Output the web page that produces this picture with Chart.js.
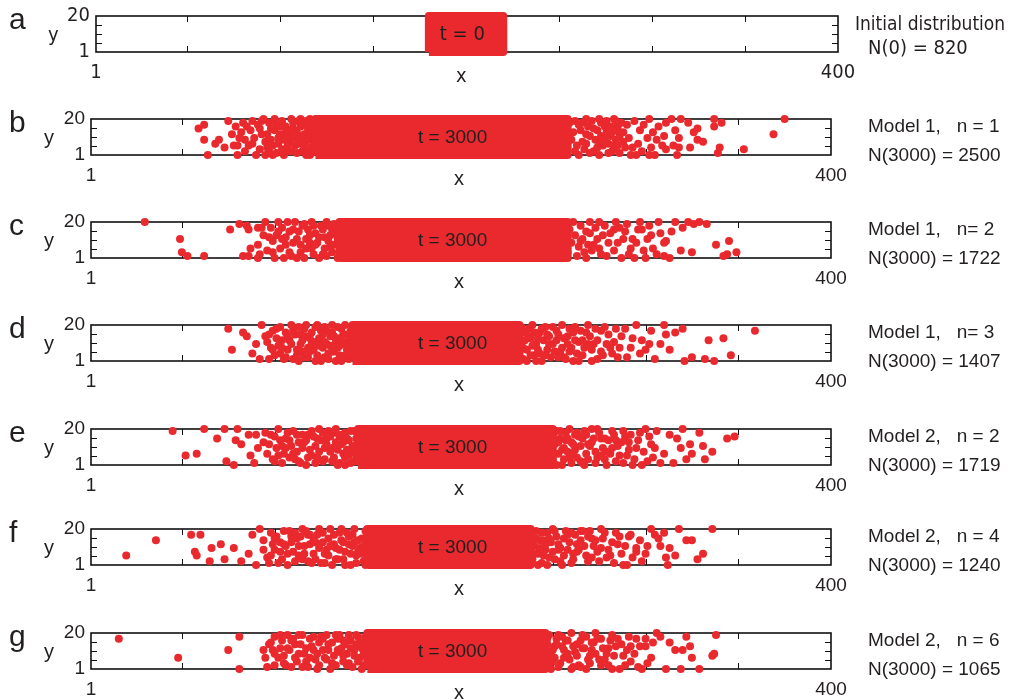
<!DOCTYPE html>
<html>
<head>
<meta charset="utf-8">
<script src="https://cdn.jsdelivr.net/npm/chart.js@4.4.1/dist/chart.umd.min.js"></script>
<style>
  body { margin: 0; background: #fff; width: 1011px; height: 700px; position: relative; overflow: hidden;
         font-family: "Liberation Sans", Arial, sans-serif; color: #231f20; }
  canvas { position: absolute; left: 0; }
  .lbl { position: absolute; white-space: pre; line-height: 1; }
  .narrow { font-family: "Liberation Sans Narrow", "DejaVu Sans Condensed", "Liberation Sans", sans-serif; }
</style>
</head>
<body>
<script>
// axis ticks
const xTickLabels = [1, 400];
const yTickLabels = [1, 20];
const xMinorTicks = [50, 100, 150, 200, 250, 300, 350];
const yMinorTicks = [5.75, 10.5, 15.25];

// panel texts
const letters = ['a', 'b', 'c', 'd', 'e', 'f', 'g'];
const timeLabels = ['t = 0', 't = 3000', 't = 3000', 't = 3000', 't = 3000', 't = 3000', 't = 3000'];
const modelLabels = ['Initial distribution', 'Model 1,   n = 1', 'Model 1,   n= 2', 'Model 1,   n= 3',
                     'Model 2,   n = 2', 'Model 2,   n = 4', 'Model 2,   n = 6'];
const countLabels = ['N(0) = 820', 'N(3000) = 2500', 'N(3000) = 1722', 'N(3000) = 1407',
                     'N(3000) = 1719', 'N(3000) = 1240', 'N(3000) = 1065'];

// fully occupied x range (every y = 1..20 taken)
const coreA = [180, 220];
const coreB = [122, 258];
const coreC = [135, 258];
const coreD = [142, 232];
const coreE = [145, 250];
const coreF = [150, 238];
const coreG = [150, 246];

// individuals [x, y] outside the full block
const pointsA = [];
const pointsB = [
  [59,15],[62,17],[62,9],[64,1],[68,7],[70,9],[73,5],[75,19],[77,12],[79,16],[78,6],[80,6],[80,1],[82,13],
  [83,18],[84,9],[85,16],[86,6],[88,19],[88,7],[90,1],[91,17],[92,15],[93,19],[95,8],[96,5],[95,1],[98,15],
  [99,1],[100,20],[102,10],[103,16],[104,4],[106,13],[107,3],[109,20],[108,8],[110,15],[111,6],[113,19],
  [114,11],[115,3],[116,17],[117,8],[118,13],[119,1],[119,20],[120,5],[121,15],[122,10],[123,18],[123,3],
  [81,10],[84,3],[87,14],[89,10],[92,4],[93,12],[94,20],
  [96,12],[97,18],[97,3],[98,9],[99,6],[100,14],[101,2],[101,17],[102,7],[103,12],[104,19],[105,9],[105,1],
  [106,16],[107,6],[108,11],[109,3],[109,14],[110,18],[111,10],[112,2],[112,13],[113,7],[114,16],[114,20],
  [115,9],[116,5],[116,12],[117,1],[117,19],[118,15],[118,4],[119,10],[120,17],[120,2],[121,8],[121,13],
  [259,18],[260,9],[261,13],[262,19],[263,6],[264,1],[265,14],[266,18],[267,4],[268,7],[269,16],[270,11],
  [271,19],[272,3],[273,9],[274,14],[275,1],[276,11],[277,6],[278,16],[279,19],[280,7],[281,11],[282,3],
  [283,20],[284,9],[286,2],[287,18],[288,13],[289,5],[291,10],[294,19],[296,7],[298,3],
  [262,3],[264,17],[266,8],[268,12],[270,2],[272,15],[274,5],[276,18],[278,9],[280,2],[282,13],[283,4],
  [285,16],[286,11],[268,20],[275,20],[275,8],[279,13],[281,16],[284,19],[285,14],[283,6],[285,6],[288,8],
  [290,17],[292,1],[293,5],[295,1],[297,14],[299,17],[301,10],[302,1],[302,20],[303,5],[304,13],[305,1],
  [306,9],[307,16],[309,6],[310,11],[311,18],[311,4],[314,20],[315,6],[316,14],[317,1],[318,10],[318,5],
  [319,20],[323,18],[324,5],[326,13],[328,15],[328,9],[331,8],[337,20],[337,16],[340,5],[339,2],[341,18],
  [353,4],[369,12],[375,20]
];
const pointsC = [
  [30,20],[49,11],[50,4],[53,2],[62,2],[76,16],[81,19],[85,18],[86,16],[83,2],[86,2],[87,6],[91,17],[91,8],
  [94,13],[91,1],[95,20],[96,5],[98,17],[99,10],[100,1],[101,13],[102,20],[103,6],[104,17],[105,1],[106,12],
  [107,20],[108,4],[108,15],[110,9],[111,20],[112,1],[113,15],[114,8],[115,18],[116,1],[117,11],[118,16],
  [120,20],[120,6],[122,14],[123,9],[125,18],[126,3],[127,12],[128,20],[130,7],[131,16],
  [119,9],[121,3],[121,18],[122,8],[124,12],[124,1],[126,16],[127,6],[128,2],[129,10],[129,18],[130,13],
  [131,4],[132,8],[132,19],[133,14],[134,1],[134,11],[135,17],[112,11],[114,4],[116,19],[117,6],[119,13],
  [110,16],[109,2],[106,8],[104,11],[102,15],[99,4],[97,12],[93,17],[92,3],
  [258,4],[259,16],[260,9],[261,20],[262,13],[263,2],[264,7],[265,18],[266,11],[268,1],[269,8],[270,14],
  [271,5],[273,17],[274,11],[276,3],[278,18],[280,9],[281,14],[283,5],[286,17],[288,11],[291,3],[295,9],
  [298,16],[303,13],[306,3],
  [265,10],[267,4],[268,15],[270,20],[272,8],[275,20],[275,6],[277,13],[279,2],[283,16],[284,20],[285,9],
  [287,1],[289,15],[290,19],[292,6],[293,11],[294,1],[296,16],[297,20],[299,5],[300,1],[301,11],[302,18],
  [304,6],[307,20],[308,14],[310,9],[310,2],[311,10],[313,1],[314,15],[316,20],[319,5],[320,17],[323,20],
  [325,4],[326,19],[329,20],[333,19],[338,8],[342,2],[344,3],[345,10],[349,4]
];
const pointsD = [
  [75,18],[77,7],[83,16],[85,14],[88,5],[90,10],[92,2],[93,20],[95,14],[98,8],[100,4],[101,18],[104,12],
  [105,2],[107,7],[109,20],[111,15],[112,4],[114,10],[116,18],[118,3],[119,13],[121,7],[123,20],[125,17],
  [127,3],[128,10],[130,14],[132,6],[134,19],[136,1],[138,11],
  [102,9],[106,16],[108,12],[110,2],[113,19],[115,6],[117,14],[120,10],[122,1],[124,13],[126,8],[127,19],
  [129,5],[131,16],[133,11],[135,4],[137,15],[138,20],[139,7],[140,2],[141,17],[96,11],[99,17],[103,5],
  [97,2],[118,8],[131,20],[135,9],
  [97,15],[99,7],[101,13],[103,19],[104,8],[106,3],[107,14],[109,10],[110,17],[112,7],[113,1],[114,15],
  [115,12],[116,3],[117,20],[119,6],[120,16],[121,11],[122,19],[123,4],[124,9],[125,1],[126,15],[127,11],
  [128,17],[129,2],[130,9],[131,6],[132,14],[133,1],[134,8],[135,13],[136,18],[137,10],[138,4],[139,15],
  [140,9],[141,12],[142,19],[143,6],
  [233,11],[234,2],[235,16],[236,7],[238,13],[239,20],[240,4],[241,10],[243,16],[244,1],[245,12],[246,19],
  [247,7],[249,3],[250,10],[252,17],[254,6],[256,13],[257,2],[259,18],[260,8],[262,12],[264,1],[265,17],
  [267,8],[270,14],[272,10],[273,18],[277,4],[280,15],[283,11],[286,8],[289,18],[293,13],[297,5],[302,10],
  [232,5],[233,19],[234,8],[235,12],[236,1],[237,14],[238,4],[239,9],[240,16],[241,1],[242,13],[243,5],
  [244,18],[246,4],[247,15],[248,10],[250,19],[251,6],[252,12],[253,15],[255,8],[256,3],[258,14],[259,6],
  [261,1],[262,19],[264,11],[266,4],[268,16],[269,10],[271,1],[274,12],[276,6],[278,19],[281,8],[285,3],
  [237,18],[242,7],[248,14],[253,3],[255,20],[258,10],[261,16],[263,5],[266,12],[269,20],[271,7],[274,2],
  [276,17],[279,10],[282,5],[284,18],[287,14],[290,3],[292,8],[295,20],[298,12],[300,7],[303,17],[305,2],
  [308,10],[310,20],[311,15],[313,7],[316,16],[320,18],[321,1],[325,3],[332,2],[337,1],[334,12],[342,13],
  [346,4],[359,17]
];
const pointsE = [
  [45,19],[52,6],[58,7],[62,20],[69,15],[73,20],[74,3],[78,1],[80,20],[79,14],[82,12],[86,17],[87,6],[89,2],
  [90,17],[91,10],[94,13],[96,7],[98,17],[100,3],[102,20],[104,11],[106,15],[108,5],[110,19],[112,8],[114,2],
  [116,13],[118,17],[120,6],[122,11],[124,20],[126,3],[128,15],[130,8],[132,18],[134,1],[136,12],[138,5],
  [138,18],[139,9],[140,14],[141,2],[142,11],[143,19],[144,6],[137,7],[135,16],[133,13],[131,3],[129,19],
  [127,10],[125,14],[123,5],[121,16],[119,9],[117,1],[115,17],[113,13],[111,4],[109,11],[107,18],[105,7],
  [103,14],[101,10],[99,4],[97,12],[95,18],
  [100,16],[102,6],[104,2],[106,10],[108,14],[110,7],[112,17],[113,3],[115,10],[117,14],[118,5],[120,19],
  [122,2],[123,15],[124,8],[126,18],[127,4],[128,12],[130,16],[131,10],[132,5],[133,20],[134,9],[135,2],
  [136,17],[137,13],[138,1],[139,15],[140,6],[141,19],[142,8],[143,3],[144,15],[145,11],
  [250,3],[251,12],[252,19],[253,7],[254,15],[255,1],[256,10],[257,18],[259,5],[260,13],[262,9],[264,16],
  [265,3],[267,19],[268,7],[270,11],[272,15],[273,2],[275,18],[277,10],[278,4],[280,14],[281,7],[283,17],
  [285,11],[288,2],[289,16],[291,9],[294,4],[296,14],[299,8],[302,16],[305,10],[308,2],
  [250,16],[251,7],[252,1],[253,13],[254,19],[255,9],[256,4],[257,14],[258,8],[259,20],[260,2],[261,12],
  [262,17],[263,5],[265,11],[266,15],[267,1],[268,17],[269,4],[271,13],[273,8],[274,20],[276,6],[278,15],
  [279,1],[282,10],[284,14],[286,6],[288,19],[291,13],[293,1],[297,18],[301,3],
  [258,15],[261,7],[263,18],[266,2],[269,12],[271,20],[274,5],[276,15],[279,8],[282,19],[284,3],[287,13],
  [290,6],[292,17],[295,10],[298,1],[300,20],[303,12],[304,5],[306,19],[310,7],[313,17],[315,2],[317,15],
  [319,10],[320,20],[322,4],[324,12],[325,7],[329,18],[331,11],[332,4],[336,8],[344,15],[348,16]
];
const pointsF = [
  [20,6],[36,14],[55,17],[60,17],[57,8],[58,6],[65,3],[66,10],[71,12],[73,4],[78,10],[82,3],[86,7],[88,17],
  [90,1],[92,20],[94,14],[96,5],[98,18],[100,9],[102,2],[103,13],[105,19],[107,7],[109,16],[111,3],[113,11],
  [115,20],[116,7],[118,17],[120,2],[122,13],[124,20],[127,7],[129,15],[131,1],[133,10],[135,18],[137,4],
  [140,12],[142,17],[144,6],
  [146,10],[147,15],[148,3],[149,19],[145,8],[143,13],[141,1],[139,18],[138,8],[136,14],[134,4],[132,12],
  [130,20],[128,9],[126,13],[125,2],[123,17],[121,7],[119,12],[117,19],[115,4],[112,15],[110,8],[108,19],
  [106,11],[104,4],[101,16],[99,12],[97,2],[94,9],
  [98,6],[100,15],[103,8],[105,12],[107,1],[109,13],[111,18],[113,6],[114,16],[116,11],[118,3],[119,17],
  [121,14],[122,4],[124,10],[126,18],[127,2],[129,6],[130,11],[132,17],[133,4],[135,9],[136,20],[137,13],
  [138,1],[140,16],[141,7],[142,11],[143,20],[144,2],[145,14],[147,7],[148,11],[149,1],
  [238,17],[239,4],[240,11],[241,19],[242,7],[243,14],[244,2],[246,9],[247,18],[249,13],[251,4],[252,16],
  [254,10],[256,6],[257,19],[259,13],[260,2],[262,17],[264,9],[265,14],[268,6],[270,19],[272,11],[275,3],
  [277,15],[280,9],[283,2],[286,16],[289,11],[293,5],[297,14],[301,11],
  [238,2],[239,13],[240,7],[241,15],[242,1],[243,10],[244,18],[245,6],[246,12],[247,1],[248,15],[250,8],
  [251,19],[253,12],[254,3],[256,15],[258,9],[260,18],[261,4],[263,8],[265,19],[267,11],[269,16],[271,5],
  [273,14],[276,10],[278,18],[281,6],[285,12],[288,1],[291,16],[295,8],
  [245,14],[248,5],[250,20],[253,9],[255,1],[258,17],[261,7],[263,12],[266,19],[269,3],[271,15],[274,8],
  [276,20],[279,5],[282,13],[284,18],[287,7],[290,1],[292,17],[295,10],[298,3],[300,7],[303,20],[305,17],
  [307,15],[308,11],[310,18],[311,5],[312,1],[313,10],[316,6],[318,20],[322,14],[325,14],[328,4],[331,7],
  [336,20]
];
const pointsG = [
  [16,17],[48,7],[75,11],[81,18],[81,1],[94,11],[95,7],[97,14],[100,18],[100,3],[103,12],[105,8],[107,19],
  [109,2],[111,14],[113,9],[115,19],[117,5],[119,17],[121,11],[123,1],[125,18],[127,7],[129,14],[131,4],
  [133,19],[135,10],[137,16],[139,3],[141,12],[143,8],[145,18],
  [147,12],[148,3],[149,16],[146,7],[144,14],[142,2],[140,19],[139,9],[137,5],[136,12],[134,17],[132,8],
  [130,1],[128,19],[126,11],[124,15],[122,6],[120,13],[118,2],[116,9],[114,14],[112,5],[110,17],[108,11],
  [106,3],[104,16],[102,7],[99,11],[96,2],
  [98,15],[100,9],[103,19],[105,4],[107,12],[109,16],[111,7],[113,19],[115,2],[117,12],[119,7],[121,18],
  [123,9],[124,3],[126,17],[128,6],[129,11],[131,15],[133,3],[134,11],[135,19],[137,8],[138,14],[140,4],
  [141,16],[143,11],[144,19],[145,5],[146,15],[147,1],[148,9],[149,18],
  [246,10],[247,17],[248,2],[249,8],[251,13],[253,19],[254,4],[256,11],[257,16],[259,6],[260,20],[262,10],
  [264,3],[265,16],[267,12],[268,1],[270,8],[272,15],[273,20],[275,6],[277,12],[280,3],[281,16],[283,8],
  [287,14],[289,3],[291,18],[294,9],[297,13],[301,4],[304,15],
  [246,4],[247,14],[248,19],[249,1],[250,11],[251,7],[252,17],[253,2],[255,13],[256,7],[258,16],[260,1],
  [261,13],[263,8],[265,2],[266,12],[268,18],[270,4],[271,15],[273,9],[276,17],[278,6],[280,12],[282,1],
  [285,17],[288,8],[292,13],[296,2],[300,17],
  [250,5],[252,14],[255,18],[258,9],[261,2],[263,14],[266,19],[269,6],[271,11],[274,17],[276,3],[279,9],
  [282,19],[284,13],[286,1],[290,11],[292,5],[295,17],[298,1],[300,13],[303,7],[306,20],[308,18],[311,1],
  [313,15],[316,11],[319,1],[320,11],[322,18],[324,13],[325,7],[329,1],[336,8],[337,9],[338,19]
];

const cores = [coreA, coreB, coreC, coreD, coreE, coreF, coreG];
const points = [pointsA, pointsB, pointsC, pointsD, pointsE, pointsF, pointsG];

// layout (pixels)
const boxTops = [16, 119, 222, 325, 429, 529, 633];
const RED = '#e9292d';
const INK = '#231f20';

function addLabel(text, left, top, size, cls) {
  const d = document.createElement('div');
  d.className = 'lbl ' + (cls || '');
  d.textContent = text;
  d.style.left = left + 'px';
  d.style.top = top + 'px';
  d.style.fontSize = size + 'px';
  document.body.appendChild(d);
}

const framePlugin = {
  id: 'frame',
  beforeDatasetsDraw(chart) {
    const { ctx, chartArea: a, scales: { x, y } } = chart;
    ctx.save();
    ctx.strokeStyle = '#111';
    ctx.lineWidth = 1;
    ctx.beginPath();
    xMinorTicks.forEach(v => {
      const px = Math.round(x.getPixelForValue(v)) + 0.5;
      ctx.moveTo(px, a.top); ctx.lineTo(px, a.top + 6);
      ctx.moveTo(px, a.bottom); ctx.lineTo(px, a.bottom - 6);
    });
    yMinorTicks.forEach(v => {
      const py = Math.round(y.getPixelForValue(v)) + 0.5;
      ctx.moveTo(a.left, py); ctx.lineTo(a.left + 6, py);
      ctx.moveTo(a.right, py); ctx.lineTo(a.right - 6, py);
    });
    ctx.stroke();
    ctx.lineWidth = 1.6;
    ctx.strokeRect(a.left, a.top, a.width, a.height);
    ctx.restore();
  },
  afterDatasetsDraw(chart, args, opts) {
    const { ctx, chartArea: a, scales: { x } } = chart;
    ctx.save();
    ctx.fillStyle = INK;
    ctx.font = opts.font;
    ctx.textAlign = 'center';
    ctx.textBaseline = 'middle';
    ctx.fillText(opts.text, x.getPixelForValue(opts.at), (a.top + a.bottom) / 2 + 1);
    ctx.restore();
  }
};

letters.forEach((letter, i) => {
  const narrow = i === 0;
  const boxTop = boxTops[i];
  const leftW = narrow ? 96 : 91;
  const rightPad = narrow ? 173 : 180;
  const canvas = document.createElement('canvas');
  canvas.width = 1011;
  canvas.height = 76;
  canvas.style.top = (boxTop - 10) + 'px';
  document.body.appendChild(canvas);

  const core = cores[i];
  const fam = narrow ? '"Liberation Sans Narrow", "DejaVu Sans Condensed", "Liberation Sans"' : '"Liberation Sans", Arial';
  const tickFont = { family: fam, size: narrow ? 20 : 19 };

  new Chart(canvas, {
    type: 'scatter',
    data: {
      datasets: [
        {
          type: 'line',
          data: [
            { x: core[0], y: 1 }, { x: core[0], y: 20 }, { x: core[1], y: 20 },
            { x: core[1], y: 1 }, { x: core[0], y: 1 }
          ],
          showLine: true,
          fill: 'shape',
          backgroundColor: RED,
          borderColor: RED,
          borderWidth: 8,
          borderJoinStyle: 'round',
          pointRadius: 0,
          tension: 0,
          clip: false
        },
        {
          data: points[i].map(p => ({ x: p[0], y: p[1] })),
          backgroundColor: RED,
          borderWidth: 0,
          pointRadius: 4,
          clip: false
        }
      ]
    },
    options: {
      responsive: false,
      animation: false,
      events: [],
      layout: { padding: { left: 0, right: rightPad, top: 10, bottom: 0 } },
      scales: {
        x: {
          type: 'linear', min: 1, max: 400,
          afterBuildTicks: s => { s.ticks = xTickLabels.map(v => ({ value: v })); },
          afterFit: s => { s.height = 30; s.paddingLeft = 0; s.paddingRight = 0; },
          grid: { display: false, drawTicks: false },
          border: { display: false },
          ticks: { color: INK, font: tickFont, padding: 9, autoSkip: false, maxRotation: 0, callback: v => String(v) }
        },
        y: {
          type: 'linear', min: 1, max: 20,
          afterBuildTicks: s => { s.ticks = yTickLabels.map(v => ({ value: v })); },
          afterFit: s => { s.width = leftW; s.paddingTop = 0; s.paddingBottom = 0; },
          grid: { display: false, drawTicks: false },
          border: { display: false },
          ticks: { color: INK, font: tickFont, padding: 6, autoSkip: false, callback: v => String(v) }
        }
      },
      plugins: {
        legend: { display: false },
        tooltip: { enabled: false },
        frame: {
          text: timeLabels[i],
          at: narrow ? 198 : 196,
          font: (narrow ? '20px ' : '19px ') + fam
        }
      }
    },
    plugins: [framePlugin]
  });

  // panel letter, axis names and right-hand notes
  addLabel(letter, 9, boxTop - 12, 30);
  addLabel('y', narrow ? 48 : 44, boxTop + 8, 20, narrow ? 'narrow' : '');
  addLabel('x', narrow ? 456 : 454, boxTop + 49, 20, narrow ? 'narrow' : '');
  if (narrow) {
    addLabel(modelLabels[i], 855, 14, 19, 'narrow');
    addLabel(countLabels[i], 868, 37, 20, 'narrow');
  } else {
    addLabel(modelLabels[i], 868, boxTop - 3, 19);
    addLabel(countLabels[i], 868, boxTop + 26, 19);
  }
});
</script>
</body>
</html>
